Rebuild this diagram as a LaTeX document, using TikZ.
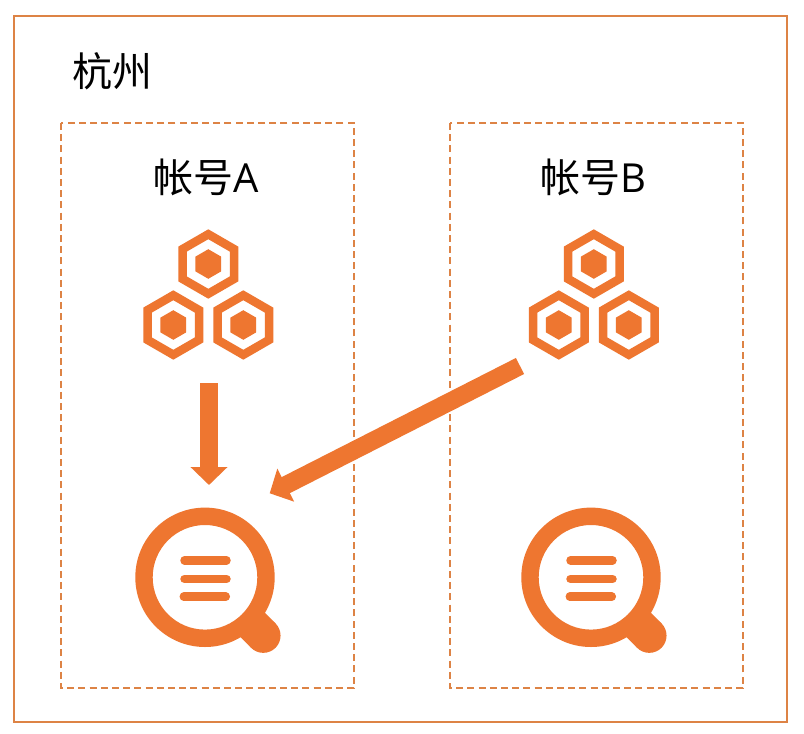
\documentclass[tikz,border=0pt]{standalone}
\usepackage{fontspec}
\setmainfont{Noto Sans CJK SC}
\newfontfamily\latinfont{Open Sans}
\usetikzlibrary{arrows.meta}
\definecolor{iconorange}{HTML}{EE7630}
\definecolor{frameorange}{HTML}{DD8345}
\tikzset{
  outerframe/.style={draw=frameorange,line width=2pt},
  accountframe/.style={draw=frameorange,line width=2pt,dash pattern=on 7pt off 4.2pt},
  bigtext/.style={inner sep=0pt,text=black,font=\fontsize{40}{40}\selectfont},
  flowarrow/.style={draw=iconorange,line width=18pt},
  hexcell/.pic={
    \fill[iconorange,even odd rule]
      (90:34.7)--(150:34.7)--(210:34.7)--(270:34.7)--(330:34.7)--(30:34.7)--cycle
      (90:24.8)--(150:24.8)--(210:24.8)--(270:24.8)--(330:24.8)--(30:24.8)--cycle;
    \fill[iconorange]
      (90:14.8)--(150:14.8)--(210:14.8)--(270:14.8)--(330:14.8)--(30:14.8)--cycle;
  },
  hexcluster/.pic={
    \pic at (0,-30.5) {hexcell};
    \pic at (-35,30.5) {hexcell};
    \pic at (35,30.5) {hexcell};
  },
  magnifier/.pic={
    \fill[iconorange,even odd rule] (0,0) circle[radius=69.7] (0,0) circle[radius=52.3];
    \draw[iconorange,line width=34.5pt] (42,42) -- (58.3,58.3);
    \fill[iconorange] (58.3,58.3) circle[radius=17.25];
    \foreach \yy/\xa in {-17/0,1.7/0,19.4/-0.7}{
      \draw[iconorange,line width=8.5pt,line cap=round]
        (-20.5+\xa,\yy) -- (21.5+\xa,\yy);
    }
  }
}
\begin{document}
\begin{tikzpicture}[x=1pt,y=-1pt]
\useasboundingbox (0,0) rectangle (804,734);
\fill[white] (0,0) rectangle (804,734);
\draw[outerframe] (14,16) rectangle (787,722);
\draw[accountframe] (61,123) rectangle (354,688);
\draw[accountframe] (450,123) rectangle (743,688);
\node[bigtext] (city) at (112,71) {杭州};
\node[bigtext] (accA) at (206.5,177) {帐号{\latinfont A}};
\node[bigtext] (accB) at (593,177) {帐号{\latinfont B}};
\pic at (208.3,294.5) {hexcluster};
\pic at (593.8,294.5) {hexcluster};
\pic at (205,577.3) {magnifier};
\pic at (591,577.3) {magnifier};
\coordinate (downstart) at (209,383);
\coordinate (downend) at (209,485);
\coordinate (diagstart) at (520,366);
\coordinate (diagend) at (269.7,493.3);
\draw[flowarrow,-{Triangle[length=18pt,width=36pt]}] (downstart) -- (downend);
\draw[flowarrow,-{Triangle[length=18pt,width=36pt]}] (diagstart) -- (diagend);
\end{tikzpicture}
\end{document}
